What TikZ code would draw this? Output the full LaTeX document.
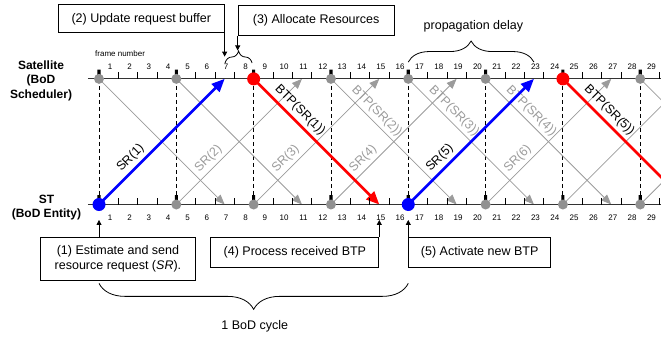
\documentclass[tikz,border=0pt]{standalone}
\usepackage{fontspec}
\setmainfont{Liberation Sans}
\usetikzlibrary{arrows.meta,decorations.pathreplacing}
\definecolor{lg}{RGB}{155,155,155}
\definecolor{dg}{RGB}{145,145,145}
\tikzset{
box/.style={draw,line width=0.8pt,align=center,inner sep=0pt,font=\fontsize{12.5}{14.5}\selectfont},
txt/.style={font=\fontsize{12.5}{14.5}\selectfont},
hd/.style={font=\fontsize{12}{14.5}\selectfont\bfseries,align=center},
num/.style={font=\fontsize{8}{8}\selectfont,inner sep=0pt},
lab/.style={sloped,above,pos=0.31,text=#1,font=\fontsize{12.5}{12.5}\selectfont},
lab/.default=black,
gl/.style={lg,line width=0.8pt,-{Triangle[length=10pt,width=8pt]}},
cl/.style={#1,line width=2.6pt,-{Triangle[length=13pt,width=11pt]}},
ptr/.style={line width=0.8pt,-{Triangle[length=5pt,width=5pt]}},
brc/.style={decorate,decoration={brace,amplitude=#1},line width=0.8pt},
gdot/.style={circle,fill=dg,inner sep=0pt,minimum size=10pt},
cdot/.style={circle,fill=#1,inner sep=0pt,minimum size=13pt},
}
\begin{document}
\begin{tikzpicture}[x=19.33pt,y=19.33pt]
\clip(-5.122,-6.958)rectangle(29.074,10.58);
\foreach \k in {0,4,...,28}{
\coordinate(t\k)at(\k,6.5);\coordinate(b\k)at(\k,0);
\coordinate(ta\k)at(\k+6.5,6.5);\coordinate(ba\k)at(\k+6.5,0);
\draw[dash pattern=on 4pt off 3pt,line width=0.9pt](t\k)--(b\k);
}
\foreach \k in {0,4,28}\draw[gl](t\k)--(ba\k);
\foreach \k/\n in {12/2,16/3,20/4}\draw[gl](t\k)--node[lab=lg](btp\n){BTP(SR(\n))}(ba\k);
\foreach \k in {24,28}\draw[gl](b\k)--(ta\k);
\foreach \k/\n in {4/2,8/3,12/4,20/6}\draw[gl](b\k)--node[lab=lg](sr\n){SR(\n)}(ta\k);
\draw[cl=blue](b0)--node[lab](sr1){SR(1)}(ta0);
\draw[cl=blue](b16)--node[lab](sr5){SR(5)}(ta16);
\draw[cl=red](t8)--node[lab](btp1){BTP(SR(1))}(ba8);
\draw[cl=red](t24)--node[lab](btp5){BTP(SR(5))}(ba24);
\draw[line width=1.2pt,black!80](-0.57,6.5)--(29.2,6.5)(-0.57,0)--(29.2,0);
\foreach \k in {1,...,29}{\draw[line width=0.8pt](\k,6.5)--++(0,0.36)(\k,0)--++(0,0.36);
\node[num](tn\k)at(\k-0.42,7.11){\k};\node[num](bn\k)at(\k-0.42,-0.68){\k};}
\foreach \k in {0,4,...,28}\fill(\k-0.08,6.5)rectangle(\k+0.08,6.98)(\k-0.08,0)rectangle(\k+0.08,0.48);
\foreach \k in {0,4,12,16,20,28}\node[gdot](dt\k)at(t\k){};
\foreach \k in {4,8,12,20,24,28}\node[gdot](db\k)at(b\k){};
\node[cdot=red](dt8)at(t8){};\node[cdot=red](dt24)at(t24){};
\node[cdot=blue](db0)at(b0){};\node[cdot=blue](db16)at(b16){};
\node[hd](sat)at(-3.0,6.40){Satellite\\(BoD\\Scheduler)};
\node[hd](st)at(-2.72,-0.155){ST\\(BoD Entity)};
\node[num](fn)at(1.09,7.82){frame number};
\node[box,anchor=south east,minimum width=166pt,minimum height=28pt](upd)at(6.5,8.857){(2) Update request buffer};
\node[box,anchor=south west,minimum width=156pt,minimum height=30pt](alloc)at(7.175,8.72){(3) Allocate Resources};
\node[box,anchor=north west,minimum width=155pt,minimum height=43pt](est)at(-3.05,-1.666){(1) Estimate and send\\resource request (\textit{SR}).};
\node[box,anchor=north east,minimum width=168pt,minimum height=30pt](proc)at(14.5,-1.666){(4) Process received BTP};
\node[box,anchor=north west,minimum width=142pt,minimum height=30pt](act)at(16,-1.666){(5) Activate new BTP};
\coordinate(p2)at(6.5,7.65);\coordinate(p3)at(7.175,7.97);
\coordinate(p1)at(0,-0.8);\coordinate(p4)at(14.5,-0.8);\coordinate(p5)at(16,-0.8);
\draw[ptr](upd.south east)--(p2);
\draw[ptr](alloc.south west)--(p3);
\draw[ptr](est.north-|p1)--(p1);
\draw[ptr](proc.north east)--(p4);
\draw[ptr](act.north west)--(p5);
\draw[brc=12pt](6.52,7.32)--(7.92,7.32);
\draw[brc=21pt](16,7.37)--(22.5,7.37);
\node[txt](pd)at(19.37,9.2){propagation delay};
\draw[brc=26pt](16,-4.08)--(0,-4.08);
\node[txt](cyc)at(8.06,-6.32){1 BoD cycle};
\end{tikzpicture}
\end{document}
